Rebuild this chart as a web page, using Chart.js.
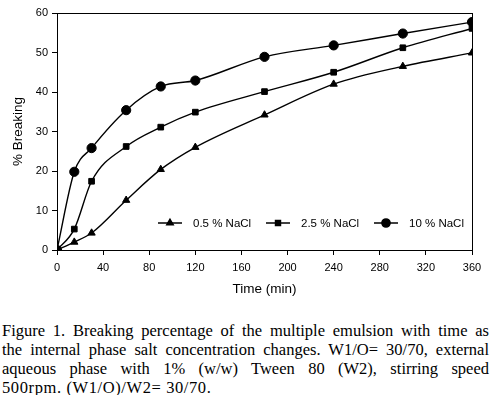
<!DOCTYPE html>
<html>
<head>
<meta charset="utf-8">
<script src="https://cdn.jsdelivr.net/npm/chart.js@4"></script>
<style>
  body { margin: 0; background: #fff; width: 500px; height: 395px; overflow: hidden; }
  #wrap { position: relative; width: 500px; height: 300px; }
  #caption {
    position: absolute; left: 2px; top: 321px; width: 487px;
    font-family: "Liberation Serif", "Times New Roman", serif;
    font-size: 16.5px; line-height: 19px; color: #000;
  }
  #caption div { text-align: justify; text-align-last: justify; white-space: nowrap; }
  #caption div.last { text-align-last: left; letter-spacing: 0.6px; }
</style>
</head>
<body>
<div id="wrap"><canvas id="lineChart" width="500" height="300"></canvas></div>
<div id="caption">
  <div>Figure 1. Breaking percentage of the multiple emulsion with time as</div>
  <div>the internal phase salt concentration changes. W1/O= 30/70, external</div>
  <div>aqueous phase with 1% (w/w) Tween 80 (W2), stirring speed</div>
  <div class="last">500rpm. (W1/O)/W2= 30/70.</div>
</div>
<script>
// temps (min)
const times = [0, 15, 30, 60, 90, 120, 180, 240, 300, 360];
// % breaking pour chaque concentration de NaCl
const nacl05 = [0, 2.0, 4.3, 12.6, 20.4, 26.0, 34.2, 42.0, 46.5, 49.9];
const nacl25 = [0, 5.3, 17.4, 26.2, 31.1, 34.9, 40.1, 45.0, 51.2, 56.1];
const nacl10 = [0, 19.8, 25.8, 35.4, 41.4, 42.9, 48.9, 51.8, 54.8, 57.7];
const seriesLabels = ['0.5 % NaCl', '2.5 % NaCl', '10 % NaCl'];
const xTicks = [0, 40, 80, 120, 160, 200, 240, 280, 320, 360];
const yTicks = [0, 10, 20, 30, 40, 50, 60];

const toPoints = vals => vals.map((v, i) => ({ x: times[i], y: v }));

const styles = [
  { pointStyle: 'triangle', radius: 4.2 },
  { pointStyle: 'rect', radius: 4 },
  { pointStyle: 'circle', radius: 4.6 }
];

const tickFont = { family: '"Liberation Sans", Arial, sans-serif', size: 11 };
const titleFont = { family: '"Liberation Sans", Arial, sans-serif', size: 13.5 };

// cadre autour de la zone du graphique + légende à l'intérieur
const framePlugin = {
  id: 'frame',
  afterDraw(chart) {
    const { ctx, chartArea: a } = chart;
    ctx.save();
    ctx.strokeStyle = '#000';
    ctx.lineWidth = 1;
    ctx.strokeRect(a.left + 0.5, a.top + 0.5, a.right - a.left, a.bottom - a.top);

    const y = a.bottom - 27;
    const starts = [a.left + 101, a.left + 209, a.left + 317];
    ctx.font = '11.5px "Liberation Sans", Arial, sans-serif';
    ctx.textBaseline = 'middle';
    chart.data.datasets.forEach((ds, i) => {
      const x0 = starts[i];
      ctx.strokeStyle = '#000';
      ctx.lineWidth = 1.5;
      ctx.beginPath();
      ctx.moveTo(x0, y);
      ctx.lineTo(x0 + 24, y);
      ctx.stroke();
      Chart.helpers.drawPoint(ctx, { pointStyle: styles[i].pointStyle, radius: styles[i].radius - 0.5, borderWidth: 1 }, x0 + 12, y);
      ctx.fillStyle = '#000';
      ctx.fill();
      ctx.fillText(ds.label, x0 + 35, y + 1);
    });
    ctx.restore();
  }
};

const ctx = document.getElementById('lineChart');
new Chart(ctx, {
  type: 'line',
  data: {
    datasets: [nacl05, nacl25, nacl10].map((vals, i) => ({
      label: seriesLabels[i],
      data: toPoints(vals),
      borderColor: '#000',
      backgroundColor: '#000',
      borderWidth: 1.4,
      pointStyle: styles[i].pointStyle,
      pointRadius: styles[i].radius,
      pointBorderWidth: 1,
      pointBackgroundColor: '#000',
      pointBorderColor: '#000',
      tension: 0.35,
      cubicInterpolationMode: 'monotone'
    }))
  },
  options: {
    responsive: false,
    animation: false,
    layout: { padding: { top: 13, right: 28, left: 0, bottom: 0 } },
    plugins: {
      legend: { display: false },
      tooltip: { enabled: false }
    },
    scales: {
      x: {
        type: 'linear',
        min: 0, max: 360,
        afterBuildTicks: s => { s.ticks = xTicks.map(v => ({ value: v })); },
        afterFit: s => { s.height = 50; },
        grid: { drawOnChartArea: false, drawTicks: true, tickLength: 5, color: '#000' },
        border: { display: true, color: '#000', width: 1 },
        ticks: { color: '#000', font: tickFont, padding: 6, maxRotation: 0 },
        title: { display: true, text: 'Time (min)', color: '#000', font: titleFont, padding: { top: 2, bottom: 3 } }
      },
      y: {
        min: 0, max: 60,
        afterBuildTicks: s => { s.ticks = yTicks.map(v => ({ value: v })); },
        afterFit: s => { s.width = 57; },
        grid: { drawOnChartArea: false, drawTicks: true, tickLength: 5, color: '#000' },
        border: { display: true, color: '#000', width: 1 },
        ticks: { color: '#000', font: tickFont, padding: 4 },
        title: { display: true, text: '% Breaking', color: '#000', font: titleFont, padding: { top: 10, bottom: 0 } }
      }
    }
  },
  plugins: [framePlugin]
});
</script>
</body>
</html>
